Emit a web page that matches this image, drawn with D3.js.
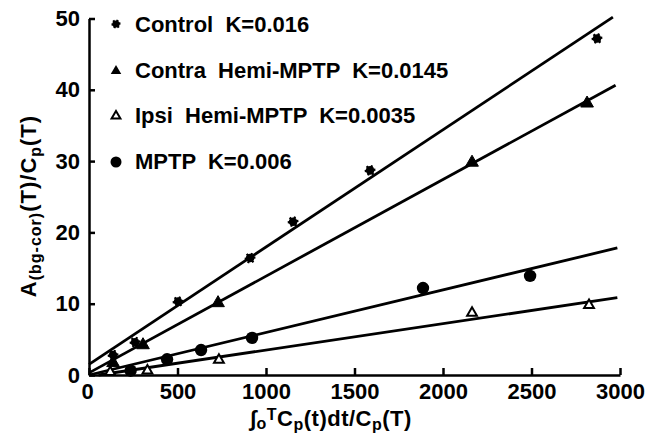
<!DOCTYPE html>
<html>
<head>
<meta charset="utf-8">
<script src="https://cdn.jsdelivr.net/npm/d3@7"></script>
<style>
  body { margin: 0; background: #fff; }
  text { font-family: "Liberation Sans", Arial, sans-serif; font-weight: bold; fill: #000; }
</style>
</head>
<body>
<div id="chart"></div>
<script>
// series
var controlX = [136, 260, 503, 910, 1153, 1588, 2870];
var controlY = [2.8, 4.6, 10.3, 16.4, 21.5, 28.7, 47.2];

var contraX = [136, 305, 729, 2164, 2814];
var contraY = [1.7, 4.2, 10.1, 29.8, 38.1];

var ipsiX = [120, 330, 734, 2164, 2825];
var ipsiY = [0.4, 0.6, 2.1, 8.7, 9.8];

var mptpX = [235, 441, 633, 921, 1887, 2492];
var mptpY = [0.6, 2.2, 3.5, 5.2, 12.2, 13.9];

// fitted lines: intercept, slope, last x
var lineNames = ['Control', 'Contra', 'Ipsi', 'MPTP'];
var lineIntercepts = [1.5, 0.3, -0.2, 0.0];
var lineSlopes = [0.01645, 0.01356, 0.0037, 0.00597];
var lineEnds = [2960, 2975, 2985, 2985];

var legendLabels = ['Control  K=0.016', 'Contra  Hemi-MPTP  K=0.0145', 'Ipsi  Hemi-MPTP  K=0.0035', 'MPTP  K=0.006'];

var xTicks = [0, 500, 1000, 1500, 2000, 2500, 3000];
var yTicks = [0, 10, 20, 30, 40, 50];

var w = 653, h = 435;
var svg = d3.select('#chart').append('svg')
  .attr('width', w)
  .attr('height', h);

var x = d3.scaleLinear().domain([0, 3000]).range([89, 620]);
var y = d3.scaleLinear().domain([0, 50]).range([375, 18.5]);

// axes
var gx = svg.append('g')
  .attr('transform', 'translate(0,' + y(0) + ')')
  .call(d3.axisBottom(x).tickValues(xTicks).tickFormat(d3.format('d'))
    .tickSizeInner(-7).tickSizeOuter(0).tickPadding(8));

var gy = svg.append('g')
  .attr('transform', 'translate(' + x(0) + ',0)')
  .call(d3.axisLeft(y).tickValues(yTicks).tickFormat(d3.format('d'))
    .tickSizeInner(-6).tickSizeOuter(0).tickPadding(9));

svg.selectAll('.domain, .tick line')
  .attr('stroke', '#000')
  .attr('stroke-width', 2.5);
svg.selectAll('.tick text')
  .style('font-size', '22px')
  .style('font-family', '"Liberation Sans", Arial, sans-serif')
  .style('font-weight', 'bold');
gx.selectAll('.tick text').filter(function(d){ return d === 0; }).attr('dx', -2);

// fit lines
lineNames.forEach(function(n, i){
  var b = lineIntercepts[i], m = lineSlopes[i];
  var x0 = Math.max(0, -b / m);
  svg.append('line')
    .attr('x1', x(x0)).attr('y1', y(b + m * x0))
    .attr('x2', x(lineEnds[i])).attr('y2', y(b + m * lineEnds[i]))
    .attr('stroke', '#000')
    .attr('stroke-width', 2.8);
});

// control marker: dark blob with spikes
var spikes = d3.symbol().type(d3.symbolAsterisk).size(70);
var triFilled = d3.symbol().type(d3.symbolTriangle).size(70);
var triOpen = d3.symbol().type(d3.symbolTriangle).size(42);

function drawBlob(g, cx, cy, r){
  g.append('circle').attr('cx', cx).attr('cy', cy).attr('r', r).attr('fill', '#000');
  g.append('path').attr('d', d3.symbol().type(d3.symbolAsterisk).size(r * r * 4.4))
    .attr('transform', 'translate(' + cx + ',' + cy + ') rotate(22)')
    .attr('fill', 'none').attr('stroke', '#000').attr('stroke-width', 2.2);
}

var gc = svg.append('g');
controlX.forEach(function(d, i){ drawBlob(gc, x(d), y(controlY[i]), 4.3); });

function drawPoints(xs, ys, sym, fill, sw){
  svg.append('g').selectAll('path')
    .data(xs)
    .enter()
    .append('path')
    .attr('d', sym)
    .attr('transform', function(d, i){ return 'translate(' + x(d) + ',' + y(ys[i]) + ')'; })
    .attr('fill', fill)
    .attr('stroke', '#000')
    .attr('stroke-width', sw);
}

drawPoints(contraX, contraY, triFilled, '#000', 1);
drawPoints(ipsiX, ipsiY, triOpen, '#fff', 2);

svg.append('g').selectAll('circle')
  .data(mptpX)
  .enter()
  .append('circle')
  .attr('cx', function(d){ return x(d); })
  .attr('cy', function(d, i){ return y(mptpY[i]); })
  .attr('r', 6.2)
  .attr('fill', '#000');

// legend
var legY = [32, 78, 123, 169];
var leg = svg.append('g');
leg.selectAll('text')
  .data(legendLabels)
  .enter()
  .append('text')
  .attr('x', 135)
  .attr('y', function(d, i){ return legY[i]; })
  .style('font-size', '22px')
  .style('white-space', 'pre')
  .attr('xml:space', 'preserve')
  .text(function(d){ return d; });

drawBlob(leg, 116, legY[0] - 8, 3.6);
leg.append('path').attr('d', d3.symbol().type(d3.symbolTriangle).size(48))
  .attr('transform', 'translate(116,' + (legY[1] - 7) + ')')
  .attr('fill', '#000');
leg.append('path').attr('d', d3.symbol().type(d3.symbolTriangle).size(34))
  .attr('transform', 'translate(116,' + (legY[2] - 7) + ')')
  .attr('fill', '#fff').attr('stroke', '#000').attr('stroke-width', 2);
leg.append('circle')
  .attr('cx', 116).attr('cy', legY[3] - 7).attr('r', 5.5)
  .attr('fill', '#000');

// x axis title
var xt = svg.append('text')
  .attr('x', 250)
  .attr('y', 426)
  .style('font-size', '22px')
  .style('letter-spacing', '0.5px');
xt.append('tspan').text('\u222B').style('font-size', '22px');
xt.append('tspan').text('o').attr('dy', 3).style('font-size', '16px');
xt.append('tspan').text('T').attr('dy', -9).style('font-size', '16px');
xt.append('tspan').text('C').attr('dy', 6);
xt.append('tspan').text('p').attr('dy', 4).style('font-size', '16px');
xt.append('tspan').text('(t)dt/C').attr('dy', -4);
xt.append('tspan').text('p').attr('dy', 4).style('font-size', '16px');
xt.append('tspan').text('(T)').attr('dy', -4);

// y axis title
var yt = svg.append('text')
  .attr('transform', 'translate(36,206) rotate(-90)')
  .attr('text-anchor', 'middle')
  .style('font-size', '22px')
  .style('letter-spacing', '1px');
yt.append('tspan').text('A');
yt.append('tspan').text('(bg-cor)').attr('dy', 5).style('font-size', '16px');
yt.append('tspan').text('(T)/C').attr('dy', -5);
yt.append('tspan').text('p').attr('dy', 5).style('font-size', '16px');
yt.append('tspan').text('(T)').attr('dy', -5);
</script>
</body>
</html>
